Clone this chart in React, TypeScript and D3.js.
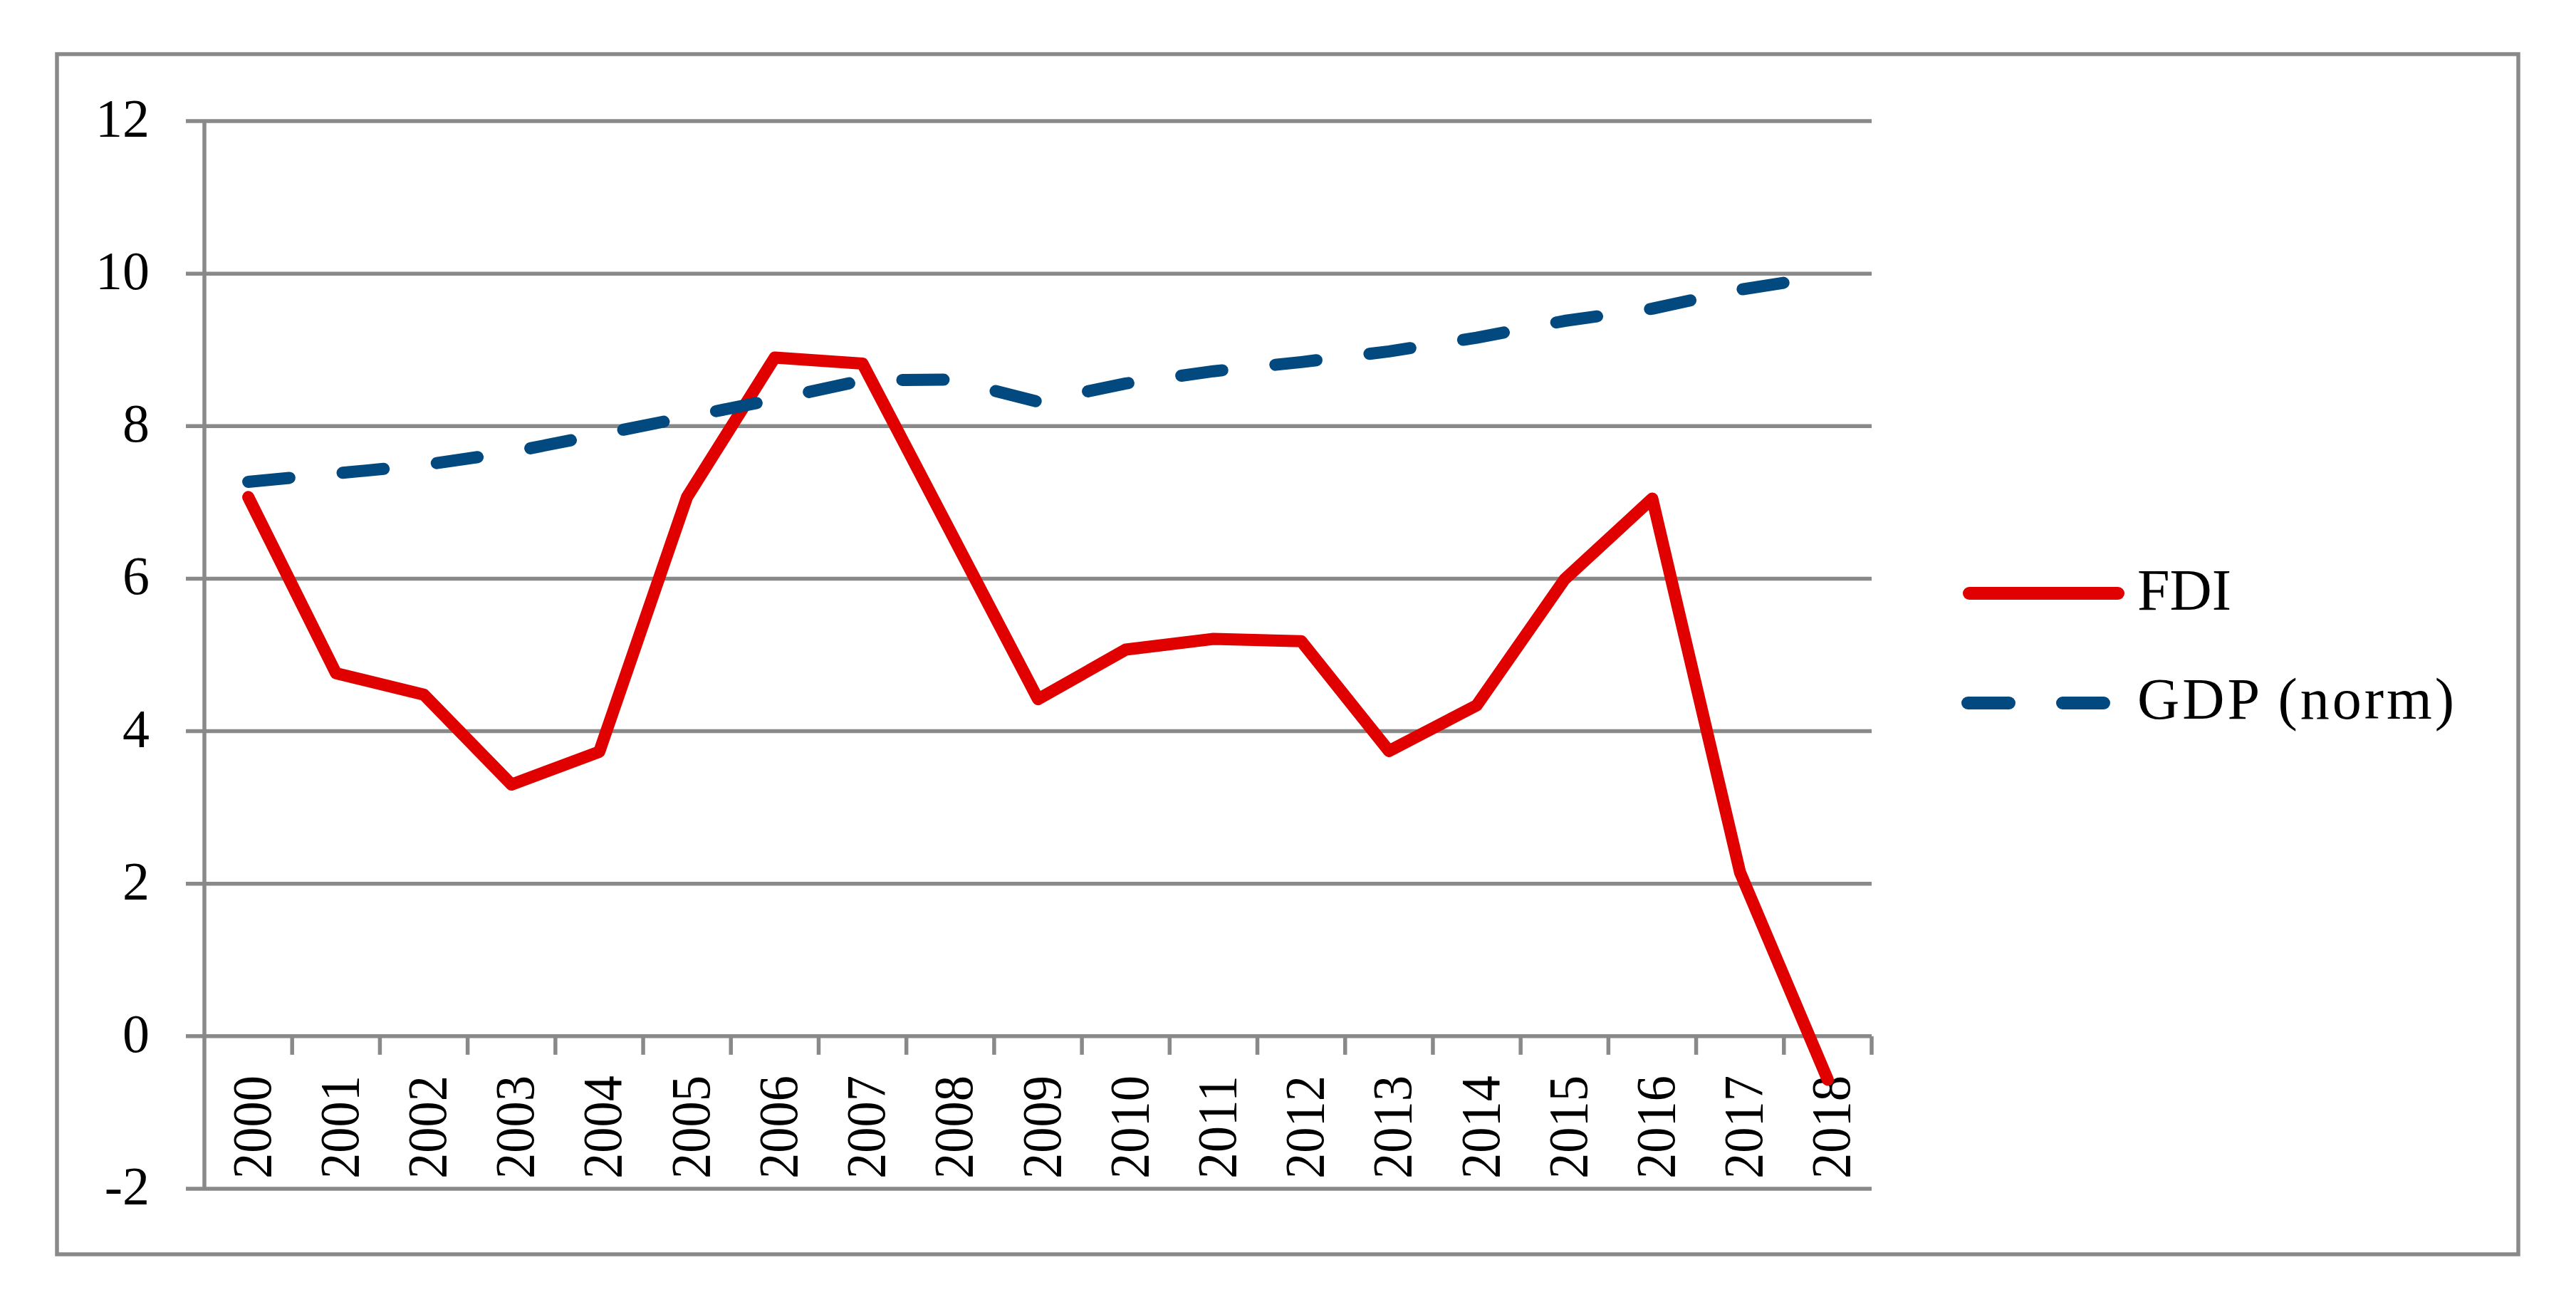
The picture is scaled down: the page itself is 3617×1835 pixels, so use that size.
import React from "react";
import * as d3 from "d3";

const years = ["2000","2001","2002","2003","2004","2005","2006","2007","2008","2009","2010","2011","2012","2013","2014","2015","2016","2017","2018"];
const fdi = [7.07, 4.76, 4.48, 3.30, 3.73, 7.07, 8.90, 8.82, 6.62, 4.42, 5.07, 5.21, 5.18, 3.74, 4.34, 5.99, 7.05, 2.15, -0.57];
const gdp = [7.27, 7.38, 7.49, 7.66, 7.89, 8.12, 8.35, 8.60, 8.61, 8.32, 8.56, 8.72, 8.84, 8.98, 9.16, 9.38, 9.54, 9.79, 9.97];
const yTicks = [-2, 0, 2, 4, 6, 8, 10, 12];
const seriesNames = ["FDI", "GDP (norm)"];

const W = 3617, H = 1835;
const GRAY = "#898989";
const RED = "#E00000";
const BLUE = "#02497F";
const FONT = "'Liberation Serif', 'Times New Roman', serif";

export default function App() {
  const x = d3.scaleBand<string>().domain(years).range([287, 2628]).padding(0);
  const y = d3.scaleLinear().domain([-2, 12]).range([1669, 170]);
  const cx = (i: number) => (x(years[i]) as number) + x.bandwidth() / 2;
  const line = d3.line<number>().x((_, i) => cx(i)).y((v) => y(v));
  const [x0, x1] = x.range();
  const boundaries = years.map((yr) => (x(yr) as number) + x.bandwidth()).slice(0);

  return (
    <svg width={W} height={H} style={{ position: "absolute", left: 0, top: 0, display: "block", background: "#fff" }}>
      <rect x={0} y={0} width={W} height={H} fill="#fff" />
      {/* outer frame */}
      <rect x={80} y={76} width={3536 - 80} height={1761 - 76} fill="none" stroke={GRAY} strokeWidth={5.5} />
      {/* gridlines */}
      {yTicks.map((t) => (
        <line key={"g" + t} x1={261} x2={x1} y1={y(t)} y2={y(t)} stroke={GRAY} strokeWidth={5.5} />
      ))}
      {/* y axis */}
      <line x1={x0} x2={x0} y1={y(12)} y2={y(-2)} stroke={GRAY} strokeWidth={5.5} />
      {/* x ticks */}
      {boundaries.map((bx, i) => (
        <line key={"t" + i} x1={bx} x2={bx} y1={y(0)} y2={y(0) + 26} stroke={GRAY} strokeWidth={5.5} />
      ))}
      {/* y tick labels */}
      {yTicks.map((t) => (
        <text key={"yl" + t} x={210} y={y(t) + 22} textAnchor="end" fontFamily={FONT} fontSize={76} fill="#000">
          {String(t)}
        </text>
      ))}
      {/* x tick labels */}
      {years.map((yr, i) => (
        <text
          key={"xl" + yr}
          transform={`translate(${cx(i) + 31},1510) rotate(-90)`}
          textAnchor="end"
          fontFamily={FONT}
          fontSize={78}
          textLength={145}
          lengthAdjust="spacingAndGlyphs"
          fill="#000"
        >
          {yr}
        </text>
      ))}
      {/* series */}
      <path d={line(fdi) as string} fill="none" stroke={RED} strokeWidth={17} strokeLinecap="round" strokeLinejoin="round" />
      <path d={line(gdp) as string} fill="none" stroke={BLUE} strokeWidth={17} strokeLinecap="round" strokeLinejoin="round" strokeDasharray="58 75" />
      {/* legend */}
      <line x1={2765} x2={2974} y1={833} y2={833} stroke={RED} strokeWidth={18} strokeLinecap="round" />
      <text x={3001} y={856} fontFamily={FONT} fontSize={82} fill="#000">{seriesNames[0]}</text>
      <line x1={2763} x2={2954} y1={987} y2={987} stroke={BLUE} strokeWidth={18} strokeLinecap="round" strokeDasharray="58 75" />
      <text x={3001} y={1009} fontFamily={FONT} fontSize={82} fill="#000" textLength={445} lengthAdjust="spacing">{seriesNames[1]}</text>
    </svg>
  );
}
